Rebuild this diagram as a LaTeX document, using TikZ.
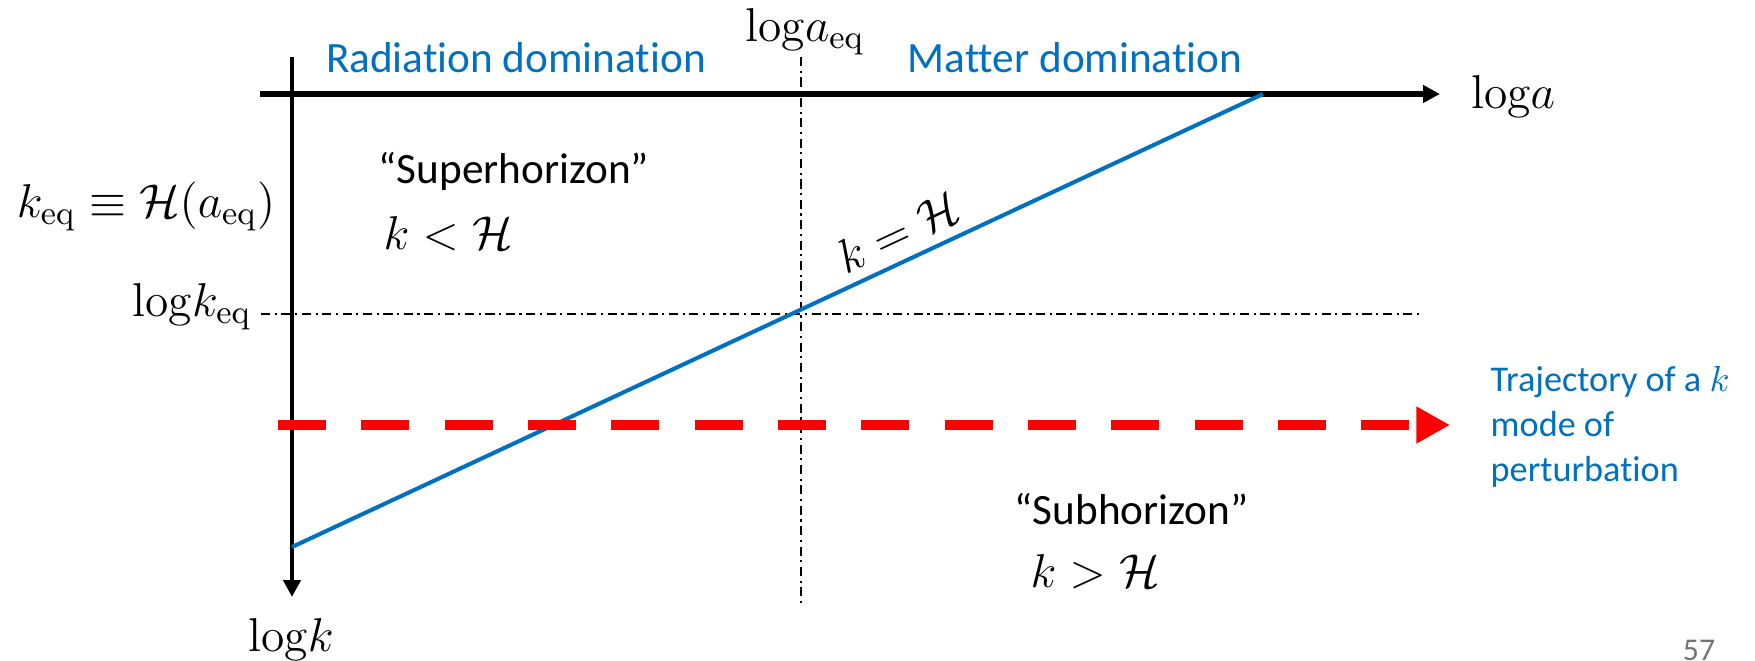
\RequirePackage{fix-cm}
\documentclass[tikz,border=0pt]{standalone}
\usepackage{fontspec}
\newfontfamily\calibfont[Ligatures={TeX,NoCommon}]{Carlito}
\usepackage{xcolor}
\usepackage{amsmath}
\usepackage{tikz}
\usetikzlibrary{arrows.meta}
\definecolor{slideblue}{RGB}{0,112,192}

\begin{document}
\begin{tikzpicture}[
  x=0.01cm, y=-0.01cm,
  mathlbl/.style={inner sep=0pt,font=\fontsize{13.5}{16}\selectfont},
  regionlbl/.style={inner sep=0pt,text=slideblue,font=\calibfont\fontsize{12.3}{14}\selectfont},
  zonelbl/.style={inner sep=0pt,font=\calibfont\fontsize{12.3}{14}\selectfont},
  notelbl/.style={inner sep=0pt,text=slideblue,align=left,
               font=\calibfont\fontsize{10.3}{12.8}\selectfont},
  axis/.style={-{Triangle[length=4.8pt,width=4.8pt]},black},
  guide/.style={black,line width=0.6pt,dash pattern=on 2.6pt off 1.3pt on 0.6pt off 1.3pt},
  horizon/.style={slideblue,line width=1.15pt},
  mode/.style={red,line width=3.1pt,dash pattern=on 13.6pt off 10.1pt,
               -{Triangle[length=9.6pt,width=9.9pt]}}
]
  \useasboundingbox (0,0) rectangle (1755,661);

  \coordinate (xstart) at (260,94);
  \coordinate (xend) at (1440,94);
  \coordinate (ystart) at (292,57);
  \coordinate (yend) at (292,597);
  \coordinate (vtop) at (801,57);
  \coordinate (vbot) at (801,607);
  \coordinate (hleft) at (261,314);
  \coordinate (hright) at (1420,314);
  \coordinate (hzlow) at (292,547);
  \coordinate (hzhigh) at (1263,94);
  \coordinate (modestart) at (278,425);
  \coordinate (modeend) at (1450,425);

  \node[mathlbl] (loga) at (1513,97) {$\mathrm{log}a$};
  \node[mathlbl] (logk) at (291,640) {$\mathrm{log}k$};
  \node[mathlbl] (logaeq) at (805,32) {$\mathrm{log}a_{\mathrm{eq}}$};
  \node[mathlbl,anchor=east] (logkeq) at (252,307) {$\mathrm{log}k_{\mathrm{eq}}$};
  \node[mathlbl] (keqdef) at (146,206) {$k_{\mathrm{eq}}\equiv\mathcal{H}(a_{\mathrm{eq}})$};

  \node[regionlbl] (raddom) at (516,58) {Radiation domination};
  \node[regionlbl] (matdom) at (1075,58) {Matter domination};

  \node[zonelbl,anchor=west] (super) at (378,171) {“Superhorizon”};
  \node[mathlbl,anchor=west] (superrel) at (383,234) {$k<\mathcal{H}$};
  \node[zonelbl,anchor=west] (sub) at (1014,509) {“Subhorizon”};
  \node[mathlbl,anchor=west] (subrel) at (1030,572) {$k>\mathcal{H}$};

  \node[mathlbl,rotate=25] (kH) at (898,232) {$k=\mathcal{H}$};

  \node[notelbl,anchor=north west] (traj) at (1490,366)
    {Trajectory of a $k$\\mode of\\perturbation};

  \node[inner sep=0pt,text=black!55,font=\calibfont\fontsize{9}{10}\selectfont] (pagenum) at (1699,650) {57};

  \draw[guide] (vtop) -- (vbot);
  \draw[guide] (hleft) -- (hright);
  \draw[axis,line width=1.6pt] (xstart) -- (xend);
  \draw[axis,line width=1.2pt] (ystart) -- (yend);
  \draw[horizon] (hzlow) -- (hzhigh);
  \draw[mode] (modestart) -- (modeend);
\end{tikzpicture}
\end{document}
